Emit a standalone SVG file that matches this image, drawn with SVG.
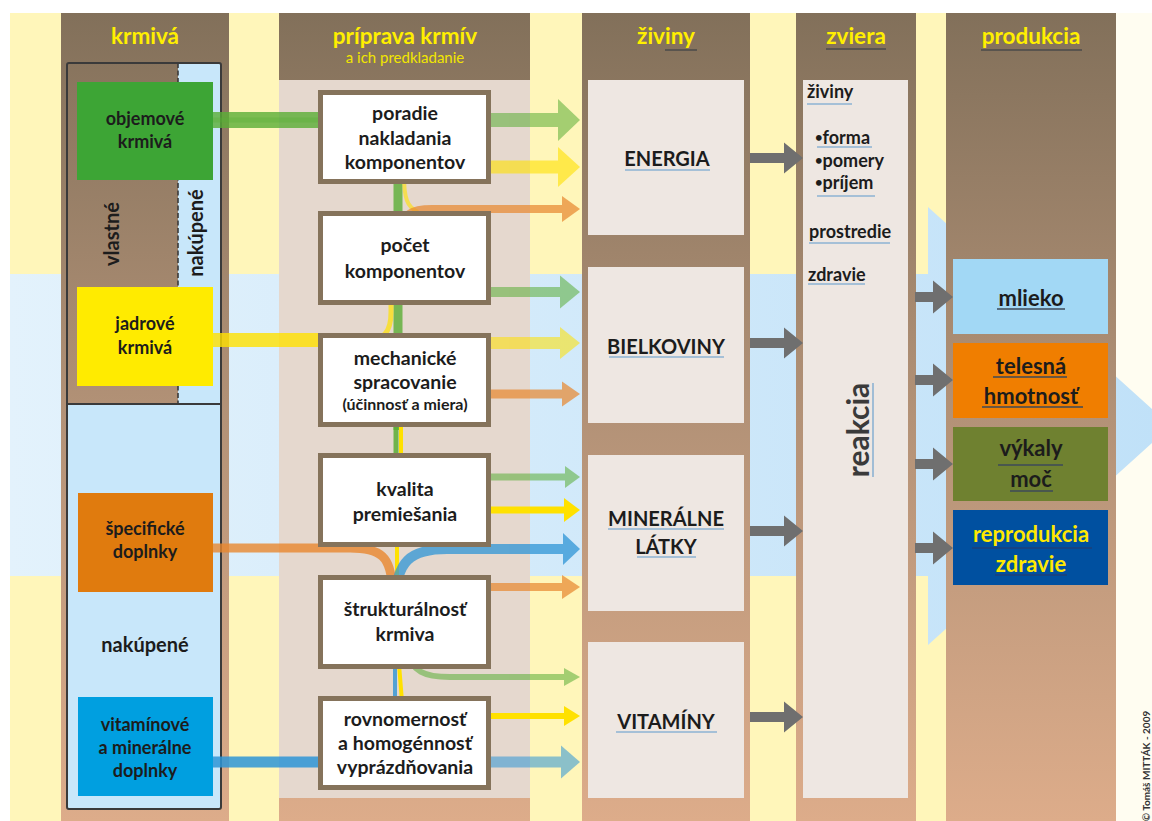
<svg xmlns="http://www.w3.org/2000/svg" width="1152" height="821" viewBox="0 0 1152 821">
  <defs>
    <linearGradient id="colGrad" gradientUnits="userSpaceOnUse" x1="0" y1="13" x2="0" y2="821">
      <stop offset="0" stop-color="#82705A"/>
      <stop offset="0.5" stop-color="#B39277"/>
      <stop offset="1" stop-color="#DDAC8A"/>
    </linearGradient>
    <linearGradient id="blueBand" gradientUnits="userSpaceOnUse" x1="10" y1="0" x2="1160" y2="0">
      <stop offset="0" stop-color="#E3F2FC"/>
      <stop offset="1" stop-color="#C0E1F8"/>
    </linearGradient>
    <path id="gArrowA" d="M0,-5H34V-15.5L53,0L34,15.5V5H0Z"/>
    <path id="gArrowB" d="M0,-5H18V-16.5L38,0L18,16.5V5H0Z"/>
    <style>
      text { font-family: Lato, "Open Sans", "DejaVu Sans", sans-serif; font-weight: bold; fill: #1C1C1C; }
      .hd { font-size: 22.5px; fill: #FFEF00; text-anchor: middle; }
      .sub { font-size: 15px; font-weight: normal; fill: #F2E600; text-anchor: middle; }
      .col { fill: url(#colGrad); }
      .lbl { font-size: 18px; text-anchor: middle; }
      .step { fill: #FFFFFF; stroke: #85735B; stroke-width: 5; }
      .st { font-size: 19.5px; text-anchor: middle; }
      .nut { fill: #EEE7E2; }
      .nt { font-size: 20px; text-anchor: middle; }
      .ul { stroke: #8DB3D3; stroke-width: 1.6; }
      .uld { stroke: #3D4A58; stroke-width: 1.4; }
      .zt { font-size: 18px; }
      .bl { font-size: 13px; }
      .pt { font-size: 22px; text-anchor: middle; }
      .gray { fill: #6F6F6F; }
      .cg { stroke: #5AAE36; fill: none; }
      .cy { stroke: #FFE100; fill: none; }
      .co { stroke: #E8872E; fill: none; }
      .cb { stroke: #2E95D6; fill: none; }
      .hg { fill: #5AAE36; }
      .hy { fill: #FFE100; }
      .ho { fill: #E8872E; }
      .hb { fill: #2E95D6; }
    </style>
  </defs>

  <!-- page background and bands -->
  <rect x="0" y="0" width="1152" height="821" fill="#FFFFFF"/>
  <rect x="10" y="13" width="1142" height="808" fill="#FFFDF1"/>
  <rect x="10" y="13" width="1106" height="808" fill="#FFF6BA"/>
  <polygon points="10,274 928,274 928,207 1171,426 928,645 928,576 10,576" fill="url(#blueBand)"/>

  <!-- column panels -->
  <g id="columns">
    <rect class="col" x="61" y="13" width="168" height="808"/>
    <rect class="col" x="279" y="13" width="251" height="808"/>
    <rect x="279" y="80" width="251" height="718" fill="#E5D8CE"/>
    <rect class="col" x="582" y="13" width="168" height="808"/>
    <rect class="col" x="796" y="13" width="120" height="808"/>
    <rect class="col" x="946" y="13" width="170" height="808"/>
  </g>

  <!-- column titles -->
  <g id="headers">
    <text class="hd" x="145" y="44">krmivá</text>
    <text class="hd" x="405" y="44">príprava krmív</text>
    <text class="sub" x="405" y="63">a ich predkladanie</text>
    <text class="hd" x="666" y="44">živiny</text>
    <line x1="665" y1="50" x2="697" y2="50" stroke="#4A4A4A" stroke-width="1.5"/>
    <text class="hd" x="856" y="44">zviera</text>
    <line x1="826" y1="49" x2="886" y2="49" stroke="#4A4A4A" stroke-width="1.5"/>
    <text class="hd" x="1031" y="44">produkcia</text>
    <line x1="981" y1="50" x2="1082" y2="50" stroke="#4A4A4A" stroke-width="1.5"/>
  </g>

  <!-- feed sources: own / purchased -->
  <g id="feed-frame">
    <rect x="178" y="63" width="43" height="341" fill="#C8E7FA"/>
    <rect x="67" y="404" width="154" height="405" fill="#C8E7FA"/>
    <rect x="67" y="63" width="154" height="746" rx="2" fill="none" stroke="#3A3A3A" stroke-width="2"/>
    <line x1="67" y1="404" x2="221" y2="404" stroke="#3A3A3A" stroke-width="2"/>
    <line x1="178" y1="63" x2="178" y2="404" stroke="#3A3A3A" stroke-width="1.6" stroke-dasharray="5,2.5"/>
    <text class="lbl" style="font-size:20px" transform="translate(119,234) rotate(-90)">vlastné</text>
    <text class="lbl" style="font-size:20px" transform="translate(203,233) rotate(-90)">nakúpené</text>
    <text class="lbl" style="font-size:20px" x="145" y="652">nakúpené</text>
  </g>

  <!-- connectors -->
  <g id="connectors">
    <!-- inputs from feeds -->
    <path class="cg" d="M213 120H330" stroke-width="16" opacity="0.8"/>
    <path class="cg" d="M213 120H330" stroke-width="5" opacity="0.35"/>
    <path class="cy" d="M213 340H330" stroke-width="14" opacity="0.8"/>
    <path class="co" d="M213 548H350C380 548 392 556 392 590" stroke-width="9" opacity="0.8"/>
    <path class="cb" d="M213 762H330" stroke-width="11" opacity="0.85"/>

    <!-- vertical trunk between preparation steps -->
    <path class="cg" d="M398 150V430" stroke-width="9" opacity="0.8"/>
    <path class="cg" d="M396 420V465" stroke-width="5" opacity="0.85"/>
    <path class="cy" d="M401 420V465" stroke-width="4"/>
    <path class="cy" d="M360 341C385 341 391 332 391 312V290" stroke-width="5" opacity="0.7"/>
    <path class="cy" d="M404 175C404 198 407 207 418 212" stroke-width="4" opacity="0.6"/>
    <path class="cy" d="M397 535V590" stroke-width="4"/>
    <path class="cy" d="M399 655C399 682 402 684 402 710" stroke-width="4"/>
    <path class="cb" d="M395 770V655" stroke-width="4" opacity="0.8"/>

    <!-- outputs to nutrients: energia -->
    <g opacity="0.55"><path class="cg" d="M470 120H559" stroke-width="14"/><polygon class="hg" points="558,99 580,120 558,141"/></g>
    <g opacity="0.6"><path class="cy" d="M470 167H559" stroke-width="13"/><polygon class="hy" points="558,147 580,167 558,187"/></g>
    <g opacity="0.7"><path class="co" d="M401 232C402 214 412 209 432 209H563" stroke-width="8"/><polygon class="ho" points="562,196 580,209 562,222"/></g>
    <!-- bielkoviny -->
    <g opacity="0.55"><path class="cg" d="M470 292H561" stroke-width="10"/><polygon class="hg" points="560,275.5 580,292 560,308.5"/></g>
    <g opacity="0.55"><path class="cy" d="M470 343H561" stroke-width="12"/><polygon class="hy" points="560,327 580,343 560,359"/></g>
    <g opacity="0.7"><path class="co" d="M470 394H563" stroke-width="9"/><polygon class="ho" points="562,381.5 580,394 562,406.5"/></g>
    <!-- minerálne látky -->
    <g opacity="0.55"><path class="cg" d="M470 477H566" stroke-width="7"/><polygon class="hg" points="565,466 580,477 565,488"/></g>
    <g><path class="cy" d="M470 510H565" stroke-width="7"/><polygon class="hy" points="564,498 580,510 564,522"/></g>
    <g opacity="0.75"><path class="cb" d="M396 600C396 562 410 549 447 549H564" stroke-width="10"/><polygon class="hb" points="563,533 580,549 563,565"/></g>
    <g opacity="0.7"><path class="co" d="M470 587H563" stroke-width="8"/><polygon class="ho" points="562,575 580,587 562,599"/></g>
    <!-- vitamíny -->
    <g opacity="0.55"><path class="cg" d="M408 650C411 672 425 677 450 677H565" stroke-width="6"/><polygon class="hg" points="564,668 580,677 564,686"/></g>
    <g><path class="cy" d="M470 716H565" stroke-width="6"/><polygon class="hy" points="564,706 580,716 564,726"/></g>
    <g opacity="0.55"><path class="cb" d="M470 762H562" stroke-width="11"/><polygon class="hb" points="561,745.5 580,762 561,778.5"/></g>

    <!-- nutrients to animal -->
    <use href="#gArrowA" class="gray" transform="translate(750,158)"/>
    <use href="#gArrowA" class="gray" transform="translate(750,343)"/>
    <use href="#gArrowA" class="gray" transform="translate(750,531)"/>
    <use href="#gArrowA" class="gray" transform="translate(750,717)"/>
    <!-- animal to production -->
    <use href="#gArrowB" class="gray" transform="translate(915,297)"/>
    <use href="#gArrowB" class="gray" transform="translate(915,380)"/>
    <use href="#gArrowB" class="gray" transform="translate(915,464)"/>
    <use href="#gArrowB" class="gray" transform="translate(915,548)"/>
  </g>

  <!-- feeds -->
  <g id="objemove-krmiva">
    <rect x="77" y="82" width="136" height="98" fill="#3DA535"/>
    <text class="lbl" x="145" y="125">objemové</text>
    <text class="lbl" x="145" y="148">krmivá</text>
  </g>
  <g id="jadrove-krmiva">
    <rect x="77" y="287" width="136" height="99" fill="#FFEB00"/>
    <text class="lbl" x="145" y="330">jadrové</text>
    <text class="lbl" x="145" y="354">krmivá</text>
  </g>
  <g id="specificke-doplnky">
    <rect x="78" y="493" width="135" height="99" fill="#E07B0E"/>
    <text class="lbl" x="145" y="535">špecifické</text>
    <text class="lbl" x="145" y="558">doplnky</text>
  </g>
  <g id="vitaminove-doplnky">
    <rect x="78" y="697" width="135" height="99" fill="#009FE0"/>
    <text class="lbl" x="145" y="731">vitamínové</text>
    <text class="lbl" x="145" y="754">a minerálne</text>
    <text class="lbl" x="145" y="777">doplnky</text>
  </g>

  <!-- preparation steps -->
  <g id="poradie">
    <rect class="step" x="320.5" y="92.5" width="168" height="89"/>
    <text class="st" x="405" y="120">poradie</text>
    <text class="st" x="405" y="145">nakladania</text>
    <text class="st" x="405" y="169">komponentov</text>
  </g>
  <g id="pocet">
    <rect class="step" x="320.5" y="213.5" width="168" height="89"/>
    <text class="st" x="405" y="252">počet</text>
    <text class="st" x="405" y="278">komponentov</text>
  </g>
  <g id="mechanicke">
    <rect class="step" x="320.5" y="335.5" width="168" height="89"/>
    <text class="st" x="405" y="365">mechanické</text>
    <text class="st" x="405" y="389">spracovanie</text>
    <text class="st" style="font-size:16px" x="405" y="410">(účinnosť a miera)</text>
  </g>
  <g id="kvalita">
    <rect class="step" x="320.5" y="455.5" width="168" height="89"/>
    <text class="st" x="405" y="496">kvalita</text>
    <text class="st" x="405" y="521">premiešania</text>
  </g>
  <g id="strukturalnost">
    <rect class="step" x="320.5" y="577.5" width="168" height="89"/>
    <text class="st" x="405" y="616">štrukturálnosť</text>
    <text class="st" x="405" y="641">krmiva</text>
  </g>
  <g id="rovnomernost">
    <rect class="step" x="320.5" y="698.5" width="168" height="89"/>
    <text class="st" x="405" y="726">rovnomernosť</text>
    <text class="st" x="405" y="750">a homogénnosť</text>
    <text class="st" x="405" y="774">vyprázdňovania</text>
  </g>

  <!-- nutrients -->
  <g id="energia">
    <rect class="nut" x="588" y="80" width="156" height="155"/>
    <text class="nt" x="667" y="166">ENERGIA</text>
    <line class="ul" x1="625" y1="170" x2="710" y2="170"/>
  </g>
  <g id="bielkoviny">
    <rect class="nut" x="588" y="267" width="156" height="156"/>
    <text class="nt" x="666" y="354">BIELKOVINY</text>
    <line class="ul" x1="609" y1="357" x2="724" y2="357"/>
  </g>
  <g id="mineralne-latky">
    <rect class="nut" x="588" y="455" width="156" height="156"/>
    <text class="nt" x="666" y="526">MINERÁLNE</text>
    <line class="ul" x1="608" y1="529" x2="724" y2="529"/>
    <text class="nt" x="666" y="554">LÁTKY</text>
    <line class="ul" x1="637" y1="557" x2="696" y2="557"/>
  </g>
  <g id="vitaminy">
    <rect class="nut" x="588" y="642" width="156" height="156"/>
    <text class="nt" x="666" y="729">VITAMÍNY</text>
    <line class="ul" x1="616" y1="732" x2="717" y2="732"/>
  </g>

  <!-- animal -->
  <g id="zviera">
    <rect class="nut" x="803" y="80" width="105" height="718"/>
    <text class="zt" x="807" y="98">živiny</text>
    <line class="ul" x1="807" y1="104" x2="852" y2="104"/>
    <text class="zt" x="815" y="144"><tspan class="bl" dy="-2">•</tspan><tspan dy="2">forma</tspan></text>
    <line class="ul" x1="817" y1="147" x2="872" y2="147"/>
    <text class="zt" x="815" y="167"><tspan class="bl" dy="-2">•</tspan><tspan dy="2">pomery</tspan></text>
    <text class="zt" x="815" y="189"><tspan class="bl" dy="-2">•</tspan><tspan dy="2">príjem</tspan></text>
    <line class="ul" x1="817" y1="196" x2="875" y2="196"/>
    <text class="zt" x="809" y="238">prostredie</text>
    <line class="ul" x1="809" y1="243" x2="890" y2="243"/>
    <text class="zt" x="808" y="281">zdravie</text>
    <line class="ul" x1="808" y1="284" x2="865" y2="284"/>
    <text style="font-size:30px;fill:#3A3A3A" text-anchor="middle" transform="translate(869,430) rotate(-90)">reakcia</text>
    <line class="ul" x1="873" y1="383" x2="873" y2="477"/>
  </g>

  <!-- production -->
  <g id="mlieko">
    <rect x="953" y="259" width="155" height="75" fill="#A2D8F5"/>
    <text class="pt" x="1031" y="306">mlieko</text>
    <line class="uld" x1="997" y1="309" x2="1065" y2="309"/>
  </g>
  <g id="telesna-hmotnost">
    <rect x="953" y="343" width="155" height="75" fill="#F07E00"/>
    <text class="pt" x="1031" y="374">telesná</text>
    <line class="uld" x1="993" y1="377" x2="1067" y2="377"/>
    <text class="pt" x="1031" y="404">hmotnosť</text>
    <line class="uld" x1="982" y1="407" x2="1083" y2="407"/>
  </g>
  <g id="vykaly-moc">
    <rect x="953" y="427" width="155" height="74" fill="#6F8130"/>
    <text class="pt" x="1031" y="456">výkaly</text>
    <line class="uld" x1="998" y1="465" x2="1063" y2="465"/>
    <text class="pt" x="1031" y="487">moč</text>
    <line class="uld" x1="1010" y1="491" x2="1053" y2="491"/>
  </g>
  <g id="reprodukcia-zdravie">
    <rect x="953" y="510" width="155" height="75" fill="#0050A0"/>
    <text class="pt" style="fill:#FFE800" x="1031" y="542">reprodukcia</text>
    <line x1="972" y1="548" x2="1092" y2="548" stroke="#1C3F7A" stroke-width="1.4"/>
    <text class="pt" style="fill:#FFE800" x="1031" y="572">zdravie</text>
    <line x1="995" y1="575" x2="1067" y2="575" stroke="#1C3F7A" stroke-width="1.4"/>
  </g>

  <text style="font-size:10px;fill:#333333" text-anchor="middle" transform="translate(1150,766) rotate(-90)">© Tomáš MITTÁK - 2009</text>
</svg>
